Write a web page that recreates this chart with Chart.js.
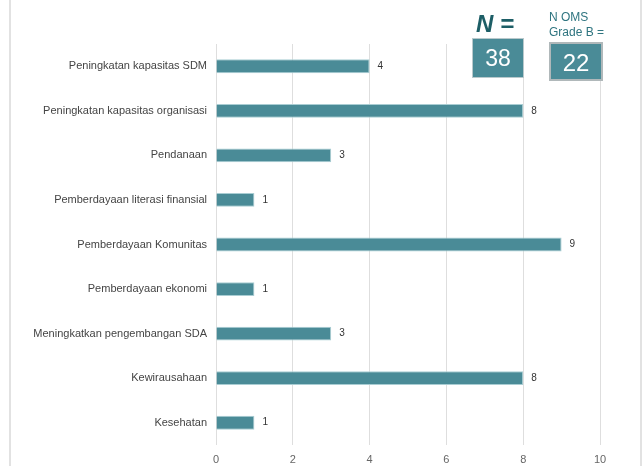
<!DOCTYPE html>
<html>
<head>
<meta charset="utf-8">
<script src="https://cdn.jsdelivr.net/npm/chart.js@4"></script>
<style>
  html, body { margin: 0; padding: 0; background: #fff; }
  body { width: 642px; height: 466px; position: relative; overflow: hidden; font-family: "Liberation Sans", Arial, sans-serif; }
  #wrap { position: absolute; left: 0; top: 0; width: 642px; height: 466px; }
  .edge { position: absolute; top: 0; width: 2px; height: 466px; background: #e2e2e2; }
  .nlabel { position: absolute; left: 476px; top: 10px; font-size: 24px; font-weight: bold; font-style: italic; color: #1d5e66; }
  .oms { position: absolute; left: 549px; top: 10px; font-size: 12px; line-height: 15px; color: #2f7580; }
  .box { position: absolute; background: #4a8b97; color: #fff; text-align: center; box-sizing: border-box; border: 1px solid #b9c9cc; }
</style>
</head>
<body>
<div id="wrap"><canvas id="chart" width="642" height="466"></canvas></div>
<div class="edge" style="left:9px"></div>
<div class="edge" style="left:640px"></div>
<div class="nlabel">N =</div>
<div class="box" style="left:472px;top:38px;width:52px;height:40px;font-size:23px;line-height:38px;">38</div>
<div class="oms">N OMS<br>Grade B =</div>
<div class="box" style="left:549px;top:42px;width:54px;height:39px;font-size:24px;line-height:37px;border:2px solid #b0b8ba;">22</div>
<script>
const categories = [
  'Peningkatan kapasitas SDM',
  'Peningkatan kapasitas organisasi',
  'Pendanaan',
  'Pemberdayaan literasi finansial',
  'Pemberdayaan Komunitas',
  'Pemberdayaan ekonomi',
  'Meningkatkan pengembangan SDA',
  'Kewirausahaan',
  'Kesehatan'
];
const counts = [4, 8, 3, 1, 9, 1, 3, 8, 1];
const xTicks = [0, 2, 4, 6, 8, 10];

// draws the value next to the end of each bar
const valueLabels = {
  id: 'valueLabels',
  afterDatasetsDraw(chart) {
    const ctx = chart.ctx;
    const meta = chart.getDatasetMeta(0);
    ctx.save();
    ctx.font = '10px "Liberation Sans", Arial, sans-serif';
    ctx.fillStyle = '#333';
    ctx.textBaseline = 'middle';
    meta.data.forEach((bar, i) => {
      ctx.fillText(String(counts[i]), bar.x + 8, bar.y);
    });
    ctx.restore();
  }
};

new Chart(document.getElementById('chart'), {
  type: 'bar',
  data: {
    labels: categories,
    datasets: [{
      data: counts,
      backgroundColor: '#4a8b97',
      borderColor: '#a9cdd3',
      borderWidth: 1,
      categoryPercentage: 1,
      barPercentage: 0.31
    }]
  },
  options: {
    indexAxis: 'y',
    responsive: false,
    animation: false,
    layout: { padding: { top: 44, right: 42, bottom: 0, left: 0 } },
    plugins: { legend: { display: false }, tooltip: { enabled: false } },
    scales: {
      x: {
        min: 0,
        max: 10,
        afterBuildTicks: (scale) => { scale.ticks = xTicks.map(v => ({ value: v })); },
        afterFit: (scale) => { scale.height = 21; },
        grid: { color: '#dedede', lineWidth: 1, drawTicks: false },
        border: { display: false },
        ticks: { color: '#666', padding: 8, font: { family: '"Liberation Sans", Arial, sans-serif', size: 11 } }
      },
      y: {
        afterFit: (scale) => { scale.width = 216; },
        grid: { display: false, drawTicks: false },
        border: { display: false },
        ticks: { color: '#444', padding: 9, font: { family: '"Liberation Sans", Arial, sans-serif', size: 11 } }
      }
    }
  },
  plugins: [valueLabels]
});
</script>
</body>
</html>
